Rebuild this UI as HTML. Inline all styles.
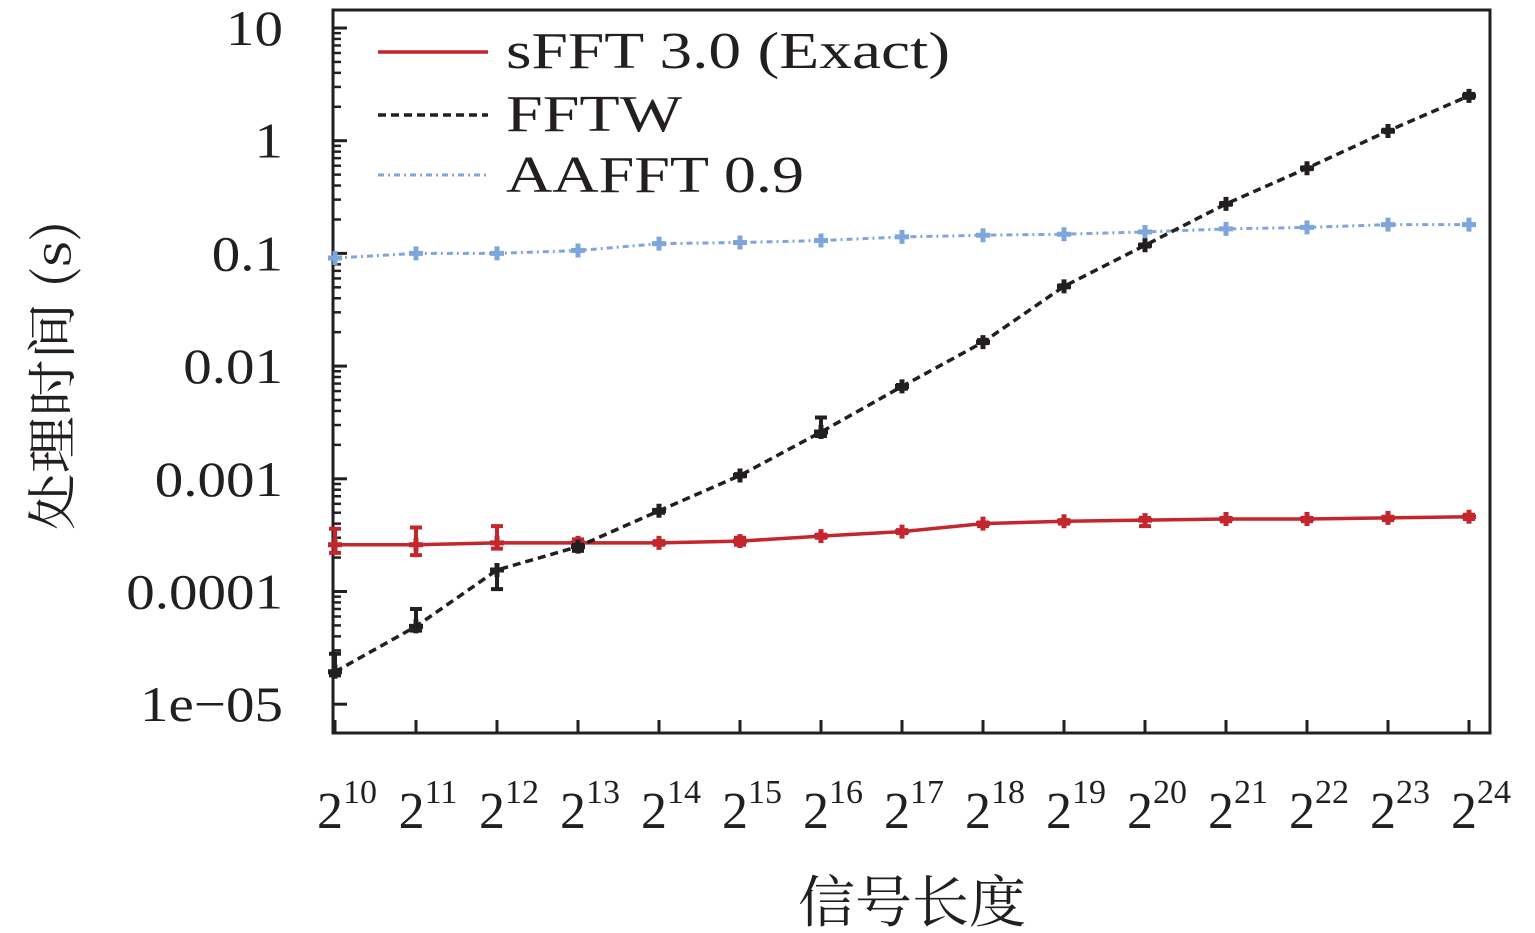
<!DOCTYPE html>
<html><head><meta charset="utf-8">
<style>
html,body{margin:0;padding:0;background:#fff;}
svg{display:block;font-family:"Liberation Serif","Noto Serif CJK SC",serif;}
</style></head>
<body>
<svg id="chart" width="1535" height="933" viewBox="0 0 1535 933">
  <rect x="333" y="10" width="1157" height="723" fill="none" stroke="#231f20" stroke-width="3"/>
  <g id="ticks"></g>
  <g id="series"></g>
  <text x="912" y="922" font-size="56" text-anchor="middle" fill="#231f20" font-family="'Noto Serif CJK SC','Noto Sans CJK SC',serif" textLength="228" lengthAdjust="spacingAndGlyphs">信号长度</text>
  <text transform="translate(70,375) rotate(-90)" font-size="50" text-anchor="middle" fill="#231f20" font-family="'Noto Serif CJK SC','Liberation Serif',serif" textLength="310" lengthAdjust="spacingAndGlyphs">处理时间 (s)</text>
  <g>
    <line x1="378" y1="52" x2="488" y2="52" stroke="#c4262e" stroke-width="3.5"/>
    <text x="506" y="68" font-size="52" fill="#231f20" textLength="444" lengthAdjust="spacingAndGlyphs">sFFT 3.0 (Exact)</text>
    <line x1="378" y1="115" x2="488" y2="115" stroke="#231f20" stroke-width="3.5" stroke-dasharray="8,5"/>
    <text x="506" y="131" font-size="52" fill="#231f20" textLength="176" lengthAdjust="spacingAndGlyphs">FFTW</text>
    <line x1="378" y1="175" x2="488" y2="175" stroke="#7fa6da" stroke-width="3" stroke-dasharray="6,4,2,4"/>
    <text x="506" y="192" font-size="52" fill="#231f20" textLength="298" lengthAdjust="spacingAndGlyphs">AAFFT 0.9</text>
  </g>
</svg>
<script>
const exponents = [10,11,12,13,14,15,16,17,18,19,20,21,22,23,24];
const sfft  = [2.6e-4,2.6e-4,2.7e-4,2.7e-4,2.7e-4,2.8e-4,3.1e-4,3.4e-4,4.0e-4,4.2e-4,4.3e-4,4.4e-4,4.4e-4,4.5e-4,4.6e-4];
const sfftErrHi = [3.6e-4,3.7e-4,3.8e-4,2.9e-4,2.8e-4,3.0e-4,3.2e-4,3.5e-4,4.1e-4,4.3e-4,4.5e-4,4.5e-4,4.5e-4,4.6e-4,4.8e-4];
const sfftErrLo = [2.2e-4,2.1e-4,2.4e-4,2.3e-4,2.6e-4,2.6e-4,3.0e-4,3.3e-4,3.8e-4,4.0e-4,3.8e-4,4.2e-4,4.2e-4,4.3e-4,4.4e-4];
const fftw  = [1.94e-5,4.9e-5,1.55e-4,2.5e-4,5.2e-4,1.07e-3,2.6e-3,6.6e-3,1.63e-2,5.1e-2,0.118,0.275,0.57,1.22,2.5];
const fftwErrHi = [2.8e-5,7.0e-5,1.55e-4,2.6e-4,5.3e-4,1.1e-3,3.5e-3,6.8e-3,1.7e-2,5.2e-2,0.12,0.28,0.58,1.25,2.6];
const fftwErrLo = [1.8e-5,4.5e-5,1.05e-4,2.3e-4,5.0e-4,1.05e-3,2.4e-3,6.3e-3,1.6e-2,5.0e-2,0.115,0.27,0.56,1.2,2.4];
const aafft = [0.091,0.1,0.1,0.106,0.122,0.125,0.13,0.14,0.145,0.148,0.155,0.165,0.17,0.18,0.18];
const yTickValues = [10,1,0.1,0.01,0.001,0.0001,0.00001];
const yTickLabels = ["10","1","0.1","0.01","0.001","0.0001","1e\u221205"];

const NS='http://www.w3.org/2000/svg';
function xScale(e){return 335 + (e-10)*81;}
function yScale(v){return 28 + (1 - Math.log10(v))*112.7;}
function mk(tag, attrs, parent){const el=document.createElementNS(NS,tag);for(const k in attrs)el.setAttribute(k,attrs[k]);parent.appendChild(el);return el;}

const ticks=document.getElementById('ticks');
const series=document.getElementById('series');

yTickValues.forEach((v,i)=>{
  const y=yScale(v);
  const t=mk('line',{x1:333,y1:y,x2:347,y2:y,stroke:'#231f20','stroke-width':3},ticks);
  
  
  const lb=mk('text',{x:283,y:y+17,'font-size':50,'text-anchor':'end',fill:'#231f20',transform:`translate(283,0) scale(1.14,1) translate(-283,0)`},ticks);
  lb.textContent=yTickLabels[i];
  
  
  if(i>0){
    for(let m=2;m<=9;m++){
      const ym=yScale(v*m);
      const mt=mk('line',{x1:333,y1:ym,x2:341,y2:ym,stroke:'#231f20','stroke-width':2.5},ticks);
      
      
    }
  }
});
exponents.forEach(e=>{
  const x=xScale(e);
  const t=mk('line',{x1:x,y1:733,x2:x,y2:720,stroke:'#231f20','stroke-width':3},ticks);
  
  
  const g=mk('text',{x:x+12,y:828,'font-size':52,'text-anchor':'middle',fill:'#231f20'},ticks);
  
  
  const b=mk('tspan',{},g); b.textContent='2';
  const s=mk('tspan',{dy:-25,'font-size':34},g); s.textContent=String(e);
});

function drawSeries(vals,hi,lo,color,dash,width,name){
  const pts=vals.map((v,i)=>xScale(exponents[i])+','+yScale(v)).join(' ');
  const pl=mk('polyline',{points:pts,fill:'none',stroke:color,'stroke-width':width,'stroke-dasharray':dash},series);
  
  
  vals.forEach((v,i)=>{
    const x=xScale(exponents[i]), y=yScale(v);
    if(hi){
      const eb=mk('path',{d:`M${x},${yScale(hi[i])}V${yScale(lo[i])}M${x-6},${yScale(hi[i])}H${x+6}M${x-6},${yScale(lo[i])}H${x+6}`,stroke:color,'stroke-width':4,fill:'none'},series);
      
      
    }
    const mkr=mk('path',{d:`M${x-7},${y}H${x+7}M${x},${y-7}V${y+7}`,stroke:color,'stroke-width':5},series);
    
    
  });
}
drawSeries(aafft,null,null,'#7fa6da','6,4,2,4',3,'aafft');
drawSeries(sfft,sfftErrHi,sfftErrLo,'#c4262e','none',3.5,'sfft');
drawSeries(fftw,fftwErrHi,fftwErrLo,'#231f20','8,5',3.5,'fftw');
</script>
</body></html>
